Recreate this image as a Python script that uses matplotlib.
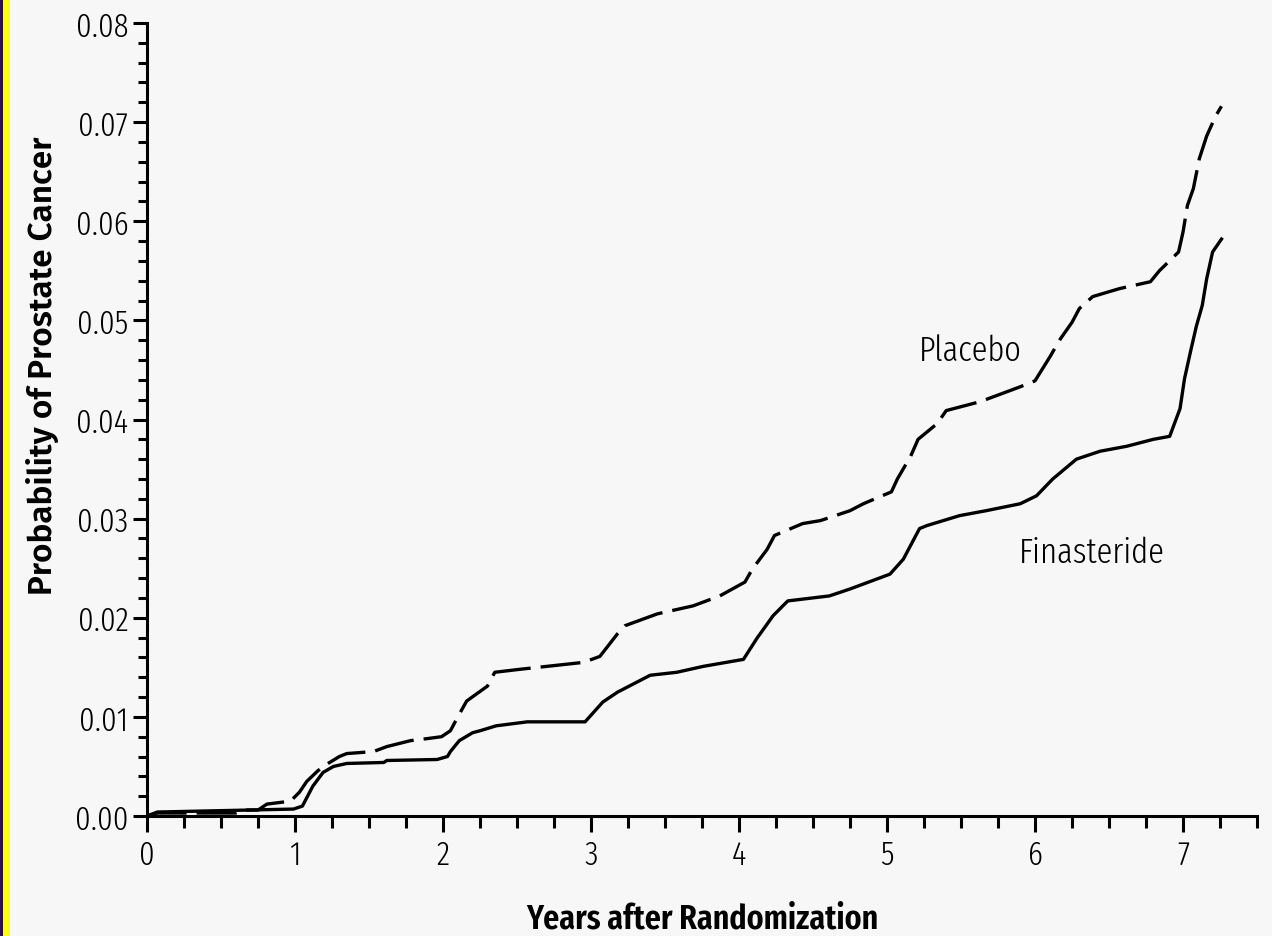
import matplotlib
matplotlib.use("Agg")
import matplotlib.pyplot as plt
from matplotlib.patches import Rectangle
from matplotlib.ticker import MultipleLocator, FormatStrFormatter

# Cumulative probability of prostate cancer
placebo_years = [0.0, 0.07, 0.60, 0.65, 0.75, 0.81, 0.97, 1.03, 1.08, 1.15, 1.19,
                 1.30, 1.35, 1.53, 1.62, 1.78, 1.89, 1.99, 2.05, 2.10, 2.16, 2.30,
                 2.35, 2.52, 2.95, 3.06, 3.18, 3.23, 3.45, 3.69, 3.87, 4.04, 4.09,
                 4.19, 4.24, 4.43, 4.55, 4.75, 4.84, 5.03, 5.07, 5.16, 5.21, 5.34,
                 5.40, 5.63, 5.72, 5.90, 6.00, 6.10, 6.17, 6.25, 6.30, 6.39, 6.57,
                 6.78, 6.84, 6.97, 7.00, 7.03, 7.07, 7.11, 7.16, 7.22, 7.26]
placebo_prob = [0.0, 0.0003, 0.0003, 0.0006, 0.0006, 0.0012, 0.0015, 0.0024, 0.0035,
                0.0045, 0.0050, 0.0060, 0.0063, 0.0065, 0.0070, 0.0076, 0.0078,
                0.0080, 0.0086, 0.0100, 0.0116, 0.0131, 0.0145, 0.0148, 0.0155,
                0.0161, 0.0184, 0.0192, 0.0204, 0.0212, 0.0222, 0.0236, 0.0249,
                0.0269, 0.0283, 0.0295, 0.0298, 0.0308, 0.0315, 0.0327, 0.0340,
                0.0363, 0.0380, 0.0396, 0.0409, 0.0418, 0.0423, 0.0433, 0.0439,
                0.0463, 0.0481, 0.0498, 0.0512, 0.0524, 0.0532, 0.0539, 0.0550,
                0.0569, 0.0589, 0.0616, 0.0633, 0.0663, 0.0686, 0.0706, 0.0716]

finasteride_years = [0.0, 0.07, 0.99, 1.05, 1.12, 1.19, 1.26, 1.35, 1.60, 1.62, 1.96,
                     2.03, 2.05, 2.11, 2.20, 2.25, 2.36, 2.57, 2.96, 3.08, 3.18, 3.40,
                     3.58, 3.76, 4.03, 4.12, 4.23, 4.33, 4.61, 4.75, 5.02, 5.11, 5.22,
                     5.27, 5.49, 5.67, 5.90, 6.01, 6.12, 6.28, 6.44, 6.62, 6.80, 6.91,
                     6.98, 7.01, 7.05, 7.09, 7.13, 7.16, 7.20, 7.26]
finasteride_prob = [0.0, 0.0004, 0.0007, 0.0010, 0.0030, 0.0044, 0.0050, 0.0053,
                    0.0054, 0.0056, 0.0057, 0.0060, 0.0065, 0.0076, 0.0084, 0.0086,
                    0.0091, 0.0095, 0.0095, 0.0115, 0.0125, 0.0142, 0.0145, 0.0151,
                    0.0158, 0.0179, 0.0202, 0.0217, 0.0222, 0.0229, 0.0244, 0.0259,
                    0.0290, 0.0293, 0.0303, 0.0308, 0.0315, 0.0323, 0.0340, 0.0360,
                    0.0368, 0.0373, 0.0380, 0.0383, 0.0411, 0.0441, 0.0468, 0.0494,
                    0.0515, 0.0542, 0.0569, 0.0582]

light = ['Fira Sans Extra Condensed', 'DejaVu Sans']
bold = ['Fira Sans', 'DejaVu Sans']
bg = '#f7f7f7'
W, H = 1272, 937

fig = plt.figure(figsize=(W / 100, H / 100), dpi=100, facecolor=bg)
ax = fig.add_axes([147 / W, 1 - 817 / H, (1257 - 147) / W, (817 - 24) / H])
ax.set_facecolor(bg)

# yellow / purple strip on the left edge
fig.patches.append(Rectangle((0, 0), 10 / W, 1, transform=fig.transFigure,
                             facecolor='#ffff00', edgecolor='none'))
fig.patches.append(Rectangle((0, 0), 3 / W, 1, transform=fig.transFigure,
                             facecolor='#2c0b5c', edgecolor='none'))

ax.plot(placebo_years, placebo_prob, color='black', lw=2.4, dashes=(12, 3),
        dash_capstyle='butt')
ax.plot(finasteride_years, finasteride_prob, color='black', lw=2.4)

ax.text(5.56, 0.0460, 'Placebo', fontsize=25.5, family=light, fontweight=300,
        ha='center', va='baseline')
ax.text(6.385, 0.0256, 'Finasteride', fontsize=25.5, family=light, fontweight=300,
        ha='center', va='baseline')

ax.set_xlim(0, 7.5)
ax.set_ylim(0, 0.08)
ax.xaxis.set_major_locator(MultipleLocator(1))
ax.xaxis.set_minor_locator(MultipleLocator(0.25))
ax.yaxis.set_major_locator(MultipleLocator(0.01))
ax.yaxis.set_minor_locator(MultipleLocator(0.002))
ax.yaxis.set_major_formatter(FormatStrFormatter('%.2f'))

for s in ['top', 'right']:
    ax.spines[s].set_visible(False)
for s in ['left', 'bottom']:
    ax.spines[s].set_linewidth(2.2)

ax.tick_params(axis='x', which='major', length=11.5, width=2.2, pad=5, labelsize=24)
ax.tick_params(axis='x', which='minor', length=8.6, width=2.2)
ax.tick_params(axis='y', which='major', length=10, width=2.2, pad=3.5, labelsize=24)
ax.tick_params(axis='y', which='minor', length=6.5, width=2.2)
for lab in ax.get_xticklabels() + ax.get_yticklabels():
    lab.set_family(light)
    lab.set_fontweight(300)

fig.text(702 / W, 1 - 929 / H, 'Years after Randomization', fontsize=25, family=light,
         fontweight=600, ha='center', va='baseline')
fig.text(52 / W, 1 - 366 / H, 'Probability of Prostate Cancer', fontsize=24,
         family=bold, fontweight=600, rotation=90, rotation_mode='anchor',
         ha='center', va='baseline')

fig.savefig('out.png', dpi=100, facecolor=bg)
